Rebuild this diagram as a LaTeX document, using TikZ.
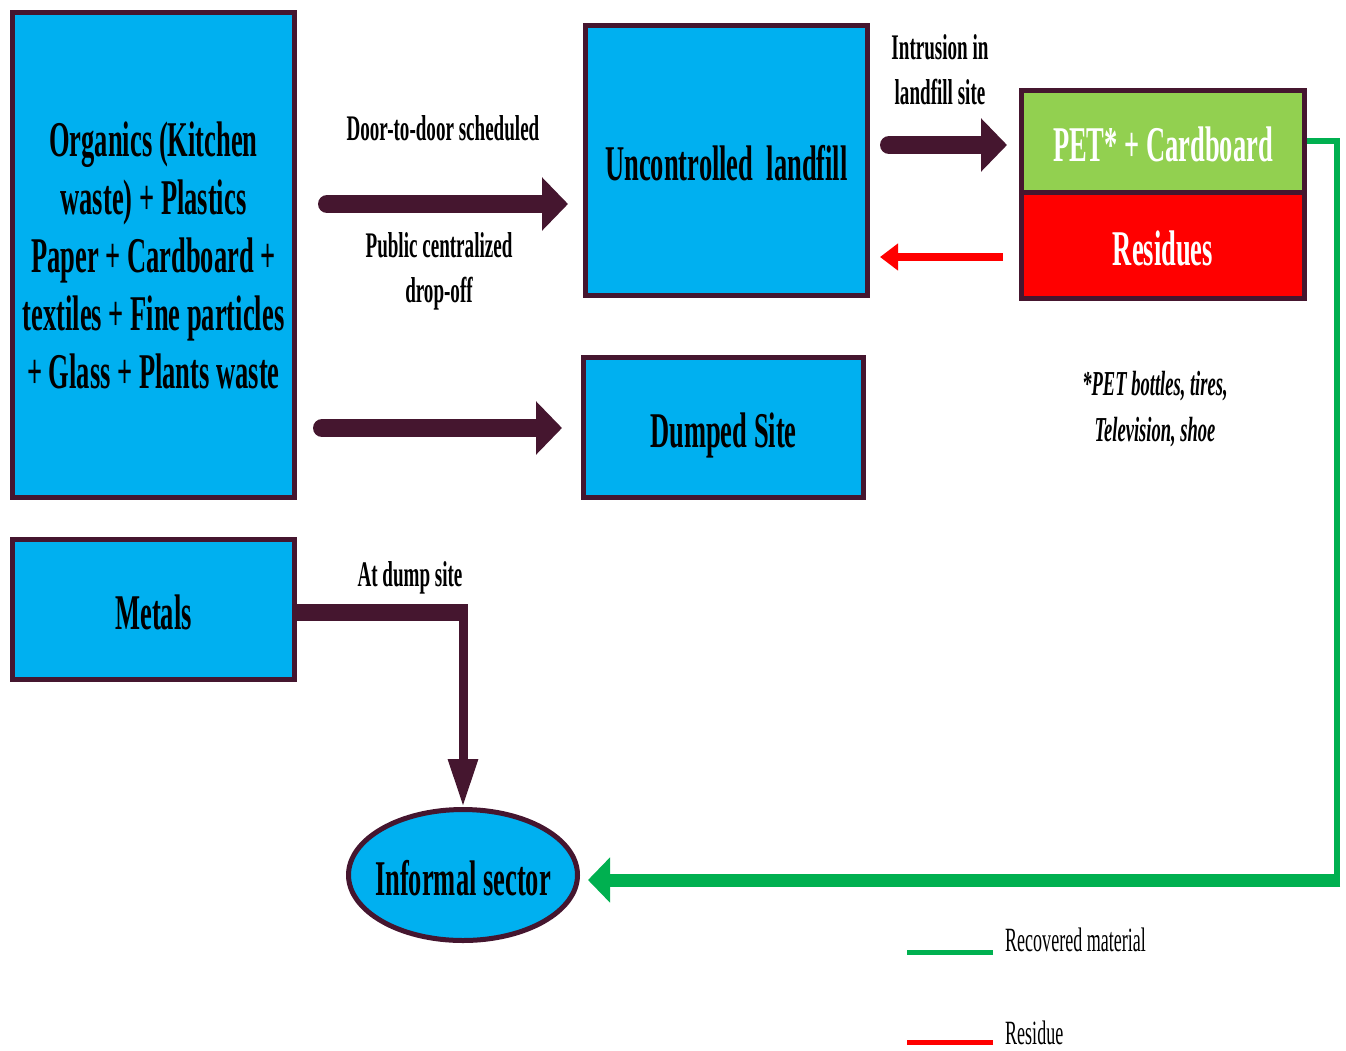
\documentclass[tikz,border=0pt]{standalone}
\usepackage{fontspec}
\setmainfont{Liberation Serif}[FakeStretch=0.53]
\usetikzlibrary{arrows.meta,shapes.geometric,calc}
\definecolor{dk}{RGB}{69,22,47}
\definecolor{boxblue}{RGB}{0,176,240}
\definecolor{boxgreen}{RGB}{146,208,80}
\definecolor{boxred}{RGB}{255,0,0}
\definecolor{lgreen}{RGB}{0,176,80}
\begin{document}
\begin{tikzpicture}[x=1pt,y=-1pt,
  bx/.style={draw=dk, line width=5pt, fill=boxblue, inner sep=0pt, align=center,
             font=\bfseries\fontsize{50}{58}\selectfont},
  oneline/.style={text height=40pt, text depth=0pt},
  lbl/.style={align=center, inner sep=0pt, font=\bfseries\fontsize{36}{45}\selectfont},
  fat/.style={draw=dk, line width=18pt, line cap=round, -{Triangle[width=52pt,length=26pt]}},
]
\useasboundingbox (0,0) rectangle (1346,1050);

% nodes
\node[bx, minimum width=282pt, minimum height=485pt] (big) at (153.5,255)
  {Organics (Kitchen\\waste) + Plastics\\Paper + Cardboard +\\textiles + Fine particles\\+ Glass + Plants waste};
\node[bx, oneline, minimum width=282pt, minimum height=270pt] (lf) at (726.5,160.5) {Uncontrolled\ \ landfill};
\node[bx, oneline, minimum width=280pt, minimum height=140pt] (ds) at (723.5,427.5) {Dumped Site};
\node[bx, oneline, fill=boxgreen, text=white, minimum width=283pt, minimum height=102pt] (pet) at (1163,141) {PET* + Cardboard};
\node[bx, oneline, fill=boxred, text=white, minimum width=283pt, minimum height=106pt] (res) at (1163,245) {Residues};
\node[bx, oneline, minimum width=282pt, minimum height=140pt] (met) at (153.5,609.5) {Metals};
\node[bx, oneline, ellipse, minimum width=229pt, minimum height=131pt, inner xsep=-9pt, inner ysep=0pt] (inf) at (463,875) {Informal sector};

% labels
\node[lbl] (l1) at (443,128) {Door-to-door scheduled};
\node[lbl] (l2) at (439,271) {Public centralized\\drop-off};
\node[lbl] (l3) at (940,70) {Intrusion in\\landfill site};
\node[lbl] (l4) at (410,578) {At dump site};
\node[align=center, inner sep=0pt, font=\bfseries\itshape\fontsize{35}{46}\selectfont] (note) at (1155,409) {*PET bottles, tires,\\Television, shoe};

% main arrows
\draw[fat, shorten <=30pt, shorten >=15pt] (big.east |- 0,204) -- (lf.west |- 0,204);
\draw[fat, shorten <=25pt, shorten >=19pt] (big.east |- 0,428) -- (ds.west |- 0,428);
\draw[fat, shorten <=19pt, shorten >=12pt] (lf.east |- 0,145) -- (pet.west |- 0,145);
\draw[draw=boxred, line width=8pt, -{Triangle[width=26pt,length=18pt]}, shorten <=16pt, shorten >=10pt]
  (res.west |- 0,257) -- (lf.east |- 0,257);

% metals to informal sector
\draw[dk, line width=17pt] ([yshift=-3pt]met.east) -- ([xshift=4.5pt,yshift=-3pt]met.east -| inf.north);
\draw[dk, line width=9pt, -{Triangle[width=28pt,length=48pt]}] ([yshift=4pt]met.east -| inf.north) -- (inf.north);

% recovered material loop
\coordinate (gc) at (1337,880);
\draw[lgreen, line width=6pt] (pet.east) -| (gc);
\draw[lgreen, line width=13pt, -{Triangle[width=44pt,length=22pt]}, shorten >=8pt] ([xshift=3pt]gc) -- (inf.east |- gc);

% legend
\node[anchor=west, inner sep=0pt, font=\fontsize{34}{40}\selectfont] (lega) at (1005,940) {Recovered material};
\node[anchor=west, inner sep=0pt, font=\fontsize{34}{40}\selectfont] (legb) at (1005,1033) {Residue};
\draw[lgreen, line width=5pt] ($(lega.west)+(-12,12)$) -- ++(-86,0);
\draw[boxred, line width=5pt] ($(legb.west)+(-12,9)$) -- ++(-86,0);
\end{tikzpicture}
\end{document}
